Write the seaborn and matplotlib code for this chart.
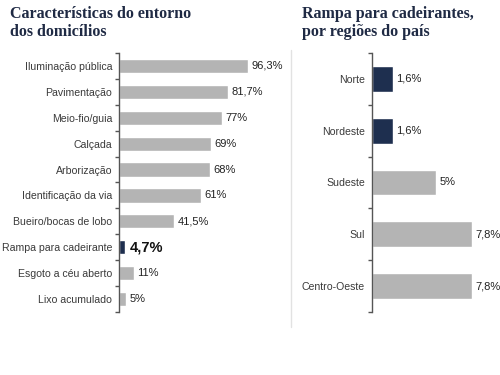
import matplotlib
matplotlib.use("Agg")
import matplotlib.pyplot as plt
import seaborn as sns

# ------ dados ------ #
itens = [
    "Iluminação pública", "Pavimentação", "Meio-fio/guia", "Calçada",
    "Arborização", "Identificação da via", "Bueiro/bocas de lobo",
    "Rampa para cadeirante", "Esgoto a céu aberto", "Lixo acumulado",
]
valores_itens = [96.3, 81.7, 77, 69, 68, 61, 41.5, 4.7, 11, 5]
rotulos_itens = ["96,3%", "81,7%", "77%", "69%", "68%", "61%", "41,5%", "4,7%", "11%", "5%"]

regioes = ["Norte", "Nordeste", "Sudeste", "Sul", "Centro-Oeste"]
valores_regioes = [1.6, 1.6, 5, 7.8, 7.8]
rotulos_regioes = ["1,6%", "1,6%", "5%", "7,8%", "7,8%"]

CINZA = "#b4b4b4"
AZUL = "#1e2f4f"
TITULO = "#1f2a44"

sns.set_theme(style="white")
plt.rcParams["font.family"] = ["Liberation Sans", "DejaVu Sans"]

fig = plt.figure(figsize=(5, 3.75), dpi=100)
ax1 = fig.add_axes([0.238, 0.168, 0.302, 0.6907])
ax2 = fig.add_axes([0.744, 0.168, 0.236, 0.6907])


def desenha(ax, cats, vals, rotulos, cores, xmax, largura, destaque=None):
    sns.barplot(x=vals, y=cats, hue=cats, palette=cores, legend=False,
                width=largura, saturation=1, ax=ax)
    ax.set_xlim(0, xmax)
    ax.set_ylim(len(cats) - 0.5, -0.5)
    ax.set_xlabel("")
    ax.set_ylabel("")
    ax.set_xticks([])
    for s in ["top", "right", "bottom"]:
        ax.spines[s].set_visible(False)
    ax.spines["left"].set_color("#555555")
    ax.spines["left"].set_linewidth(1.0)
    ax.set_yticks([i - 0.5 for i in range(len(cats) + 1)], minor=True)
    ax.tick_params(axis="y", which="major", length=0, pad=5,
                   labelsize=7.6, labelcolor="#3a3a3a")
    ax.tick_params(axis="y", which="minor", left=True, length=3,
                   width=1, color="#555555")
    for i, (v, r) in enumerate(zip(vals, rotulos)):
        if i == destaque:
            ax.annotate(r, (v, i), xytext=(3, 0), textcoords="offset points",
                        va="center", ha="left", fontsize=10.5,
                        fontweight="bold", color="#111111")
        else:
            ax.annotate(r, (v, i), xytext=(2.5, 0), textcoords="offset points",
                        va="center", ha="left", fontsize=8, color="#222222")


cores_itens = [AZUL if c == "Rampa para cadeirante" else CINZA for c in itens]
cores_regioes = [AZUL if v < 2 else CINZA for v in valores_regioes]

desenha(ax1, itens, valores_itens, rotulos_itens, cores_itens, 113, 0.55,
        destaque=itens.index("Rampa para cadeirante"))
desenha(ax2, regioes, valores_regioes, rotulos_regioes, cores_regioes, 9.2, 0.5)

# ------ titulos ------ #
fig.text(10 / 500, 1 - 6 / 375, "Características do entorno\ndos domicílios",
         ha="left", va="top", fontsize=11.5, fontweight="bold", color=TITULO,
         family=["Liberation Serif", "DejaVu Serif"], linespacing=1.2)
fig.text(302 / 500, 1 - 6 / 375, "Rampa para cadeirantes,\npor regiões do país",
         ha="left", va="top", fontsize=11.5, fontweight="bold", color=TITULO,
         family=["Liberation Serif", "DejaVu Serif"], linespacing=1.2)

# linha separadora
fig.add_artist(plt.Line2D([291 / 500, 291 / 500], [1 - 50 / 375, 1 - 327 / 375],
                          color="#e2e2e2", lw=1))

fig.savefig("out.png", dpi=100)
